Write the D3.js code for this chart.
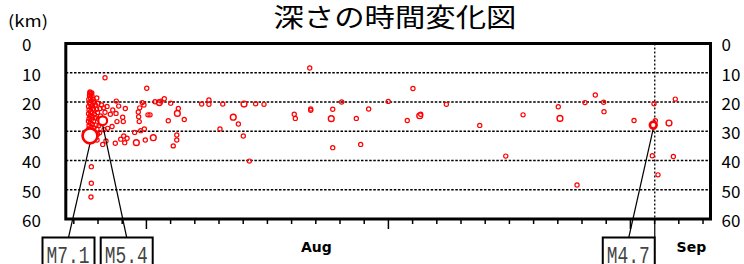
<!DOCTYPE html>
<html><head><meta charset="utf-8">
<script src="https://cdn.jsdelivr.net/npm/d3@7"></script>
<style>
html,body{margin:0;padding:0;background:#fff;}
svg{display:block;}
</style></head>
<body><svg id="chart" width="744" height="264"></svg>
<script>
// ---- data (days since Aug 1, depth in km, magnitude class) ----
const eqDay = [
 -17.38,-13.93,-16.45,-14.30,-13.25,-14.51,-14.16,-15.70,-16.74,-16.25,-16.47,-16.94,-15.92,-14.63,-13.83,-14.60,-14.55,-16.39,-15.87,-16.80,
 -17.16,-14.13,-14.43,-14.93,-13.39,-14.05,-14.79,-15.83,-15.56,-16.08,-15.75,-16.53,-17.57,-17.30,-18.51,-18.51,-18.54,-12.89,-12.75,-12.48,
 -11.95,-13.66,-11.32,-11.40,-10.83,-12.15,-9.39,-8.79,-8.79,-7.65,-5.89,-6.78,-6.36,-7.88,-5.95,-11.45,-11.45,-11.74,-5.45,-4.93,
 -4.24,-1.74,-1.65,-0.46,-0.38,-0.38,1.44,1.32,1.44,2.18,3.39,3.75,4.41,6.03,8.07,7.60,8.63,8.71,10.83,13.59,
 15.74,17.17,20.08,20.22,21.63,22.29,23.14,23.83,23.86,26.34,27.99,28.10,27.85,28.32,29.23,29.75,29.59,
 -18.62,-18.54,-18.66,-18.45,-18.58,-18.72,-18.37,-18.50,-18.66,-18.25,-18.58,-18.41,-18.74,-18.17,-18.54,-18.33,-18.70,-18.08,-18.58,-18.45,
 -18.74,-18.25,-18.00,-18.62,-18.39,-18.70,-18.17,-18.51,-18.75,-18.33,-17.92,-18.60,-18.44,-18.70,-18.12,-18.54,-18.29,-18.74,-18.41,-18.04,
 -18.62,-17.88,-18.19,-17.79,-17.96,-18.06,-17.75,-17.67,-17.50,-18.00,-18.37,-17.83,-17.38,-17.21,-17.71,-17.46,-18.04,-18.64,-18.47
];
const eqDepth = [
 11.7,15.3,19.7,20.2,19.9,22.0,21.0,22.2,22.7,21.4,23.9,24.2,25.2,23.4,24.4,25.0,26.7,26.7,26.7,28.4,
 29.0,29.2,29.8,30.4,32.2,33.0,33.9,31.6,32.4,32.7,33.9,34.1,34.5,33.3,42.1,47.8,52.5,20.2,19.7,18.9,
 20.4,24.4,22.2,23.9,26.0,26.4,20.7,19.3,20.8,20.7,20.7,25.2,27.5,29.2,31.6,31.3,33.0,35.0,40.2,20.6,
 20.8,24.2,25.6,8.4,22.4,22.8,22.5,25.7,35.6,20.0,25.6,34.5,22.4,19.8,15.4,26.3,24.7,24.2,20.8,28.0,
 38.5,24.4,21.6,25.6,48.4,20.2,17.6,20.1,23.3,26.3,20.6,26.4,38.4,44.9,27.2,19.0,38.6,
 16.6,17.2,17.8,18.0,18.6,19.1,19.0,19.6,20.2,20.0,20.8,21.2,21.5,21.0,22.0,22.3,22.7,22.5,23.3,23.8,
 24.0,24.2,23.6,24.8,25.2,25.6,25.4,26.0,26.6,26.6,25.8,27.2,27.6,28.0,27.9,28.6,28.9,29.3,29.6,29.3,
 30.0,28.0,30.8,22.2,20.4,18.6,24.8,21.0,22.0,31.0,31.6,30.5,23.5,21.5,27.3,29.5,33.0,17.0,16.9
];
const eqMag = [
 2,2,2,2,2,2,2,2,2,2,2,2,2,2,2,2,2,2,2,2,
 2,2,2,2,3,2,3,2,2,2,2,2,2,2,2,2,2,3,2,2,
 2,2,2,3,2,2,2,2,2,2,3,3,2,2,2,2,2,2,2,2,
 2,2,2,2,2,2,2,3,2,2,2,2,2,2,2,2,3,2,2,2,
 2,2,2,3,2,2,2,2,2,2,2,2,2,2,3,2,2,
 2,2,2,2,2,2,2,2,2,2,2,2,2,2,2,2,2,2,2,2,
 2,2,2,2,2,2,2,2,2,2,2,2,2,2,2,2,2,2,2,2,
 2,2,2,2,2,2,2,2,2,2,2,2,2,2,2,2,2,2,2
];
// labelled main events
const mainLabel = ["M7.1","M5.4","M4.7"];
const mainDay   = [-18.62,-17.57,27.93];
const mainDepth = [31.6,26.4,27.9];
const mainMag   = [7.1,5.4,4.7];
// axes
const depthTicks = [0,10,20,30,40,50,60];
const gridDepths = [10,20,30,40,50];
const tickDays = d3.range(-20,33,2);
const majorTickDays = [-14,6,26];
const monthLabels = ["Aug","Sep"];
const monthDays = [0,31];
const titleText = "深さの時間変化図";
const unitText = "(km)";

// ---- layout ----
const L = 65.8, R = 710.5, T = 43.5, B = 219;
const svg = d3.select("#chart");
const x = d3.scaleLinear().domain([-20.62, 32.66]).range([L, R]);
const y = d3.scaleLinear().domain([0, 60]).range([T, B]);
const rScale = d3.scaleLinear().domain([2,3,4.7,5.4,7.1]).range([2.1,2.9,3.4,4.4,7.4]);
const swScale = d3.scaleLinear().domain([2,3,4.7,5.4,7.1]).range([1.2,1.4,2.6,2.2,2.6]);
const JP = "'Noto Sans CJK JP','Noto Sans',sans-serif";

// title
svg.append("text").attr("x",395).attr("y",26.5).attr("text-anchor","middle")
  .attr("font-family",JP).attr("font-size",26).attr("textLength",243)
  .attr("lengthAdjust","spacingAndGlyphs").attr("fill","#000").text(titleText);
svg.append("text").attr("x",8).attr("y",27).attr("font-family",JP).attr("font-size",16)
  .attr("textLength",40).attr("lengthAdjust","spacingAndGlyphs").attr("fill","#000").text(unitText);

// grid
svg.append("g").selectAll("line").data(gridDepths).join("line")
  .attr("x1",L).attr("x2",R).attr("y1",d=>y(d)).attr("y2",d=>y(d))
  .attr("stroke","#000").attr("stroke-width",1.5).attr("stroke-dasharray","2.5,1.6");

// y labels
[22, 721.5].forEach(px=>{
  svg.append("g").selectAll("text").data(depthTicks).join("text")
    .attr("x",px).attr("y",d=>y(d)+2).attr("dy","0.35em")
    .attr("font-family",JP).attr("font-size",17).attr("fill","#000").text(d=>d);
});

// bottom ticks
const xAxis = d3.axisBottom(x).tickValues(tickDays).tickFormat("")
  .tickSizeInner(5).tickSizeOuter(0);
const gx = svg.append("g").attr("transform",`translate(0,${B})`).call(xAxis);
gx.select(".domain").remove();
gx.selectAll(".tick line").attr("stroke","#000").attr("stroke-width",1.5)
  .attr("y2",d=>majorTickDays.includes(d)?10:5);

// month labels
svg.append("g").selectAll("text").data(monthLabels).join("text")
  .attr("x",(d,i)=>x(monthDays[i])+1).attr("y",252).attr("text-anchor","middle")
  .attr("font-family","'DejaVu Sans',sans-serif").attr("font-weight","bold").attr("font-size",14)
  .attr("fill","#000").text(d=>d);

// vertical dotted line at M4.7
const vx = x(mainDay[2]) + 1.5;
svg.append("line").attr("x1",vx).attr("x2",vx).attr("y1",T).attr("y2",B)
  .attr("stroke","#000").attr("stroke-width",1.3).attr("stroke-dasharray","2,2");
svg.append("line").attr("x1",vx).attr("x2",vx).attr("y1",B).attr("y2",237)
  .attr("stroke","#000").attr("stroke-width",1.2);

// earthquakes
const idx = d3.range(eqDay.length);
svg.append("g").selectAll("circle").data(idx).join("circle")
  .attr("cx",i=>x(eqDay[i])).attr("cy",i=>y(eqDepth[i])).attr("r",i=>rScale(eqMag[i]))
  .attr("fill","none").attr("stroke","#ff0000").attr("stroke-width",i=>swScale(eqMag[i]));

// frame
svg.append("rect").attr("x",L).attr("y",T).attr("width",R-L).attr("height",B-T)
  .attr("fill","none").attr("stroke","#000").attr("stroke-width",3);

// main events with leaders and boxes
const boxOffset = [-21.5, 24, -24.5];
const boxW = 52, boxTop = 237.5;
mainLabel.forEach((lab,i)=>{
  const cx = x(mainDay[i]), cy = y(mainDepth[i]), r = rScale(mainMag[i]);
  const bx = cx + boxOffset[i];
  svg.append("line").attr("x1",cx).attr("y1",cy+r).attr("x2",bx).attr("y2",boxTop)
    .attr("stroke","#000").attr("stroke-width",1.2);
  svg.append("circle").attr("cx",cx).attr("cy",cy).attr("r",r)
    .attr("fill","#fff").attr("stroke","#ff0000").attr("stroke-width",swScale(mainMag[i]));
  svg.append("rect").attr("x",bx-boxW/2).attr("y",boxTop).attr("width",boxW).attr("height",40)
    .attr("fill","#fff").attr("stroke","#000").attr("stroke-width",2);
  svg.append("text").attr("x",bx-boxW/2+4).attr("y",262.5)
    .attr("font-family","'Liberation Mono',monospace").attr("font-size",23)
    .attr("textLength",43).attr("lengthAdjust","spacingAndGlyphs")
    .attr("fill","#444").text(lab);
});
</script></body></html>
